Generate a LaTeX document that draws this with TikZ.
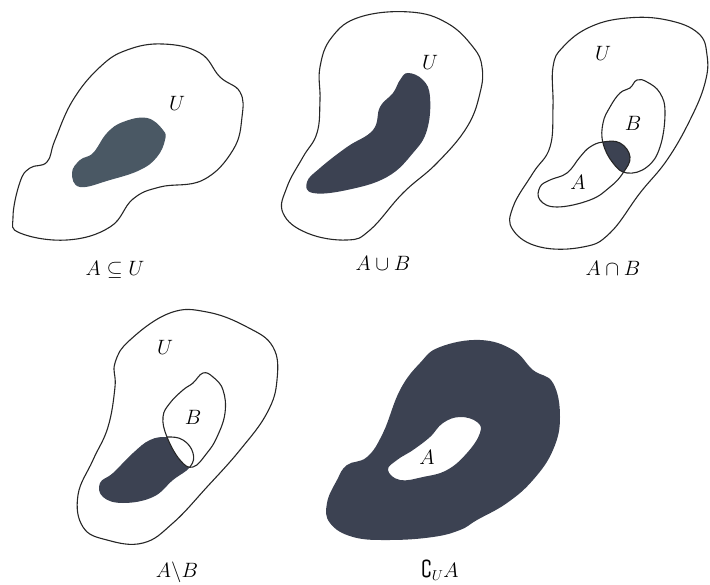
\documentclass[tikz,border=0pt]{standalone}
\usepackage{amsmath,amssymb}
\usepackage{tikz}
\usetikzlibrary{positioning}
\definecolor{slategray}{RGB}{74,88,100}
\definecolor{inkgray}{RGB}{60,66,82}
\tikzset{
	setline/.style={smooth cycle, tension=0.7},
	setlabel/.style={font=\huge}
}

\begin{document}
\begin{tikzpicture}[x=1pt, y=-1pt, outline/.style={draw=black!85, line width=1.1pt}, shade/.style={fill=inkgray}]
      \useasboundingbox (0,0) rectangle (710,585);

      % A subset U
      \draw[outline] plot[setline] coordinates {(127,50) (163,44) (200,53) (220,77) (240,92) (242,117) (233,150) (203,180) (160,187) (133,199) (110,227) (67,240) (20,233) (13,217) (20,182) (30,168) (47,162) (55,140) (73,100) (100,67)};
      \fill[slategray] plot[setline] coordinates {(147,118) (163,130) (165,140) (157,157) (140,170) (110,180) (80,187) (72,173) (80,160) (93,153) (107,133) (123,122)};
      \node[setlabel] (u1) at (177,103) {$U$};
      \node[setlabel] (c1) at (115,270) {$A\subseteq U$};

      % A union B
      \draw[outline] plot[setline] coordinates {(332,37) (360,17) (410,12) (447,23) (473,47) (482,67) (480,93) (467,127) (437,163) (403,193) (370,230) (347,240) (307,233) (283,213) (287,187) (303,157) (317,133) (320,100) (320,67)};
      \fill[shade] plot[setline] coordinates {(408,73) (423,80) (430,97) (427,130) (413,153) (387,177) (347,190) (313,193) (307,182) (320,168) (347,147) (373,130) (380,107) (393,93) (400,80)};
      \node[setlabel] (u2) at (430,62) {$U$};
      \node[setlabel] (c2) at (383,263) {$A\cup B$};

      % A intersection B
      \draw[outline] plot[setline] coordinates {(563,47) (590,27) (627,18) (667,20) (698,33) (707,55) (705,83) (690,120) (667,160) (640,193) (610,233) (583,247) (540,247) (513,230) (513,207) (533,173) (550,147) (553,107) (553,67)};
      \begin{scope}
        \clip plot[setline] coordinates {(603,142) (620,143) (630,157) (623,173) (610,187) (590,200) (557,207) (540,200) (540,187) (550,180) (567,173) (580,157) (590,147)};
        \fill[shade] plot[setline] coordinates {(637,80) (647,82) (660,93) (665,113) (660,147) (647,167) (627,173) (613,163) (603,143) (603,123) (610,107) (620,93) (630,88)};
      \end{scope}
      \draw[outline] plot[setline] coordinates {(637,80) (647,82) (660,93) (665,113) (660,147) (647,167) (627,173) (613,163) (603,143) (603,123) (610,107) (620,93) (630,88)};
      \draw[outline] plot[setline] coordinates {(603,142) (620,143) (630,157) (623,173) (610,187) (590,200) (557,207) (540,200) (540,187) (550,180) (567,173) (580,157) (590,147)};
      \node[setlabel] (u3) at (603,53) {$U$};
      \node[setlabel] (b3) at (633,123) {$B$};
      \node[setlabel] (a3) at (578,182) {$A$};
      \node[setlabel] (c3) at (613,268) {$A\cap B$};

      % A minus B
      \draw[outline] plot[setline] coordinates {(130,340) (170,313) (207,312) (247,327) (273,347) (277,380) (267,413) (240,450) (207,487) (173,523) (143,543) (107,540) (83,527) (78,495) (93,460) (108,427) (115,387) (115,363)};
      \fill[shade] plot[setline] coordinates {(167,437) (183,440) (193,453) (190,467) (173,480) (153,497) (123,503) (103,497) (100,483) (113,473) (133,453) (150,440)};
      \fill[white] plot[setline] coordinates {(203,373) (213,377) (223,390) (225,413) (217,437) (207,453) (193,467) (180,460) (167,437) (163,417) (170,403) (183,390) (193,383)};
      \draw[outline] plot[setline] coordinates {(203,373) (213,377) (223,390) (225,413) (217,437) (207,453) (193,467) (180,460) (167,437) (163,417) (170,403) (183,390) (193,383)};
      \begin{scope}
        \clip plot[setline] coordinates {(203,373) (213,377) (223,390) (225,413) (217,437) (207,453) (193,467) (180,460) (167,437) (163,417) (170,403) (183,390) (193,383)};
        \draw[outline] plot[setline] coordinates {(167,437) (183,440) (193,453) (190,467) (173,480) (153,497) (123,503) (103,497) (100,483) (113,473) (133,453) (150,440)};
      \end{scope}
      \node[setlabel] (u4) at (165,347) {$U$};
      \node[setlabel] (b4) at (193,417) {$B$};
      \node[setlabel] (c4) at (177,572) {$A\backslash B$};

      % complement of A in U
      \fill[shade, even odd rule] plot[setline] coordinates {(440,347) (480,340) (513,350) (533,370) (553,383) (560,417) (553,450) (533,480) (507,503) (477,520) (460,530) (433,537) (390,540) (353,537) (330,523) (327,503) (337,480) (347,465) (367,457) (383,433) (400,390) (420,363)}
        plot[setline] coordinates {(460,417) (477,422) (480,433) (467,453) (447,470) (423,477) (400,480) (388,470) (397,460) (413,450) (430,437) (443,423)};
      \node[setlabel] (a5) at (427,457) {$A$};
      \node[setlabel] (c5) at (440,570) {$\complement_U A$};
    \end{tikzpicture}
\end{document}
